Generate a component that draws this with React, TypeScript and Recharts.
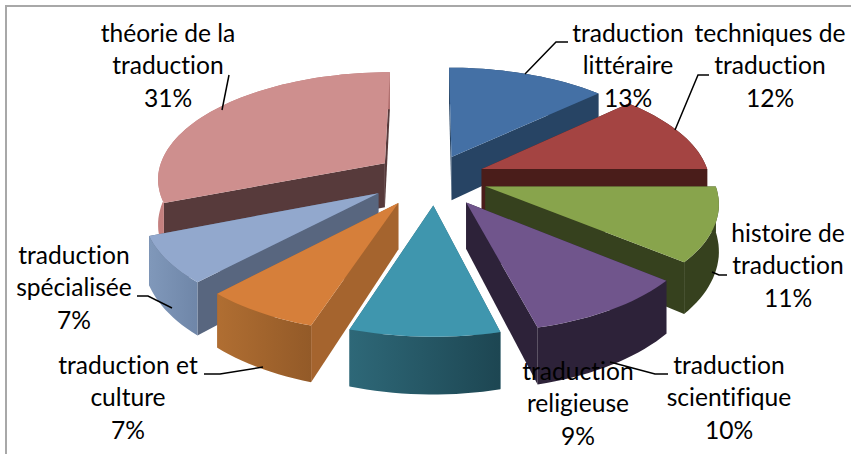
import React from "react";
import { PieChart, Pie } from "recharts";

const names = ["théorie de la traduction", "traduction littéraire", "techniques de traduction", "histoire de traduction", "traduction scientifique", "traduction religieuse", "traduction et culture", "traduction spécialisée"];
const values = [31, 13, 12, 11, 10, 9, 7, 7];
const topColors = ["#CE8F8E", "#4470A5", "#A44442", "#88A44C", "#70558C", "#3F96AE", "#D67F3A", "#92A8CD"];
const wallColors = ["#573A3B", "#274464", "#4A1D1A", "#36411E", "#2D2239", "#2C6474", "#A5642E", "#58667F"];
const arcFrom = ["#C4807F", "#274464", "#4A1D1A", "#36411E", "#2D2239", "#2E6878", "#B06E32", "#8098BA"];
const arcTo = ["#B87574", "#274464", "#4A1D1A", "#36411E", "#2D2239", "#1D4652", "#935A28", "#6F86A8"];
const labelLines = [
  ["théorie de la", "traduction", "31%"],
  ["traduction", "littéraire", "13%"],
  ["techniques de", "traduction", "12%"],
  ["histoire de", "traduction", "11%"],
  ["traduction", "scientifique", "10%"],
  ["traduction", "religieuse", "9%"],
  ["traduction et", "culture", "7%"],
  ["traduction", "spécialisée", "7%"],
];
const labelCenterX = [168, 628, 770, 788, 729, 578, 128, 74];
const labelBaseY = [42, 42, 42, 242, 374, 380, 374, 264];
const leaders = [
  "222,110 229,75",
  "525,74 556,42 568,42",
  "675,130 698,75 709,75",
  "712,272 719,275 727,275",
  "610,362 655,374 668,374",
  "",
  "263,367 220,374 204,374",
  "172,308 148,296 137,296",
];
const nudgeX = [-3, 0, 2, 4, 6, 4, -5, -8];
const nudgeY = [-2, 0, -1, -1, 2, 1, 2, 0];

const chartData = names.map((name, i) => ({ name, value: values[i], index: i }));
const FRONT_INDEX = 6;
const EXPLODE = 53;
const TILT = 0.467;
const FOCAL = 1725;
const DEPTH = 45;
const rad = (d: number) => (d * Math.PI) / 180;

function Wedge(props: any) {
  const { cx, cy, outerRadius, startAngle, endAngle, payload } = props;
  const i = payload.index;
  const t0 = 90 - startAngle;
  const t1 = 90 - endAngle;
  const tm = (t0 + t1) / 2;
  const ox = Math.sin(rad(tm)) * EXPLODE;
  const oy = -Math.cos(rad(tm)) * EXPLODE;
  const proj = (t: number, r: number, down: boolean) => {
    const X = ox + Math.sin(rad(t)) * r;
    const Y = oy - Math.cos(rad(t)) * r;
    const s = 1 / (1 - Y / FOCAL);
    return [cx + nudgeX[i] + X * s, cy + nudgeY[i] + Y * TILT * s + (down ? DEPTH * Math.pow(s, 1.4) : 0)];
  };
  const arc: number[][] = [];
  const arcLow: number[][] = [];
  const n = Math.max(8, Math.ceil(Math.abs(t1 - t0) / 2));
  for (let k = 0; k <= n; k++) {
    const t = t0 + ((t1 - t0) * k) / n;
    arc.push(proj(t, outerRadius, false));
    arcLow.push(proj(t, outerRadius, true));
  }
  const apex = proj(0, 0, false);
  const apexLow = proj(0, 0, true);
  const str = (p: number[][]) => p.map((q) => `${q[0].toFixed(1)},${q[1].toFixed(1)}`).join(" ");
  const gid = `arc-${i}`;
  const walls = [
    { y: arc[0][1], pts: [apex, arc[0], arcLow[0], apexLow], fill: wallColors[i] },
    { y: arc[n][1], pts: [apex, arc[n], arcLow[n], apexLow], fill: wallColors[i] },
    { y: 1e5, pts: [...arc, ...[...arcLow].reverse()], fill: `url(#${gid})` },
  ].sort((a, b) => a.y - b.y);
  return (
    <g>
      <defs>
        <linearGradient id={gid} x1="0" y1="0" x2="1" y2="0">
          <stop offset="0" stopColor={arcFrom[i]} />
          <stop offset="1" stopColor={arcTo[i]} />
        </linearGradient>
      </defs>
      {walls.map((w, k) => (
        <polygon key={k} points={str(w.pts)} fill={w.fill} />
      ))}
      <polygon points={str([apex, ...arc])} fill={topColors[i]} />
    </g>
  );
}

const backShape = (p: any) => (p.payload.index === FRONT_INDEX ? <g /> : <Wedge {...p} />);
const frontShape = (p: any) => (p.payload.index === FRONT_INDEX ? <Wedge {...p} /> : <g />);

function SliceLabel(props: any) {
  const i = props.payload?.index ?? props.index;
  return (
    <g>
      {leaders[i] && <polyline points={leaders[i]} fill="none" stroke="#000" strokeWidth={1.5} />}
      <text textAnchor="middle" fontFamily="Lato" fontSize={24.6} fill="#000" style={{ fontVariantLigatures: "none" }}>
        {labelLines[i].map((line, k) => (
          <tspan key={k} x={labelCenterX[i]} y={labelBaseY[i] + k * 32.4}>
            {line}
          </tspan>
        ))}
      </text>
    </g>
  );
}

export default function App() {
  const common = {
    data: chartData,
    dataKey: "value",
    nameKey: "name",
    cx: 431,
    cy: 179,
    outerRadius: 228,
    startAngle: 201.6,
    endAngle: -158.4,
    isAnimationActive: false,
    stroke: "none",
  };
  return (
    <div style={{ position: "absolute", left: 0, top: 0, width: 851, height: 454, background: "#fff", overflow: "hidden" }}>
      <div style={{ position: "absolute", left: 5, top: 5, right: -10, bottom: -10, borderLeft: "2px solid #a8a8a8", borderTop: "2px solid #a8a8a8" }} />
      <PieChart width={851} height={454} margin={{ top: 0, right: 0, bottom: 0, left: 0 }} style={{ position: "absolute", left: 0, top: 0 }}>
        <Pie {...common} shape={backShape} label={false} labelLine={false} />
        <Pie {...common} shape={frontShape} label={(p: any) => <SliceLabel {...p} />} labelLine={false} />
      </PieChart>
    </div>
  );
}
